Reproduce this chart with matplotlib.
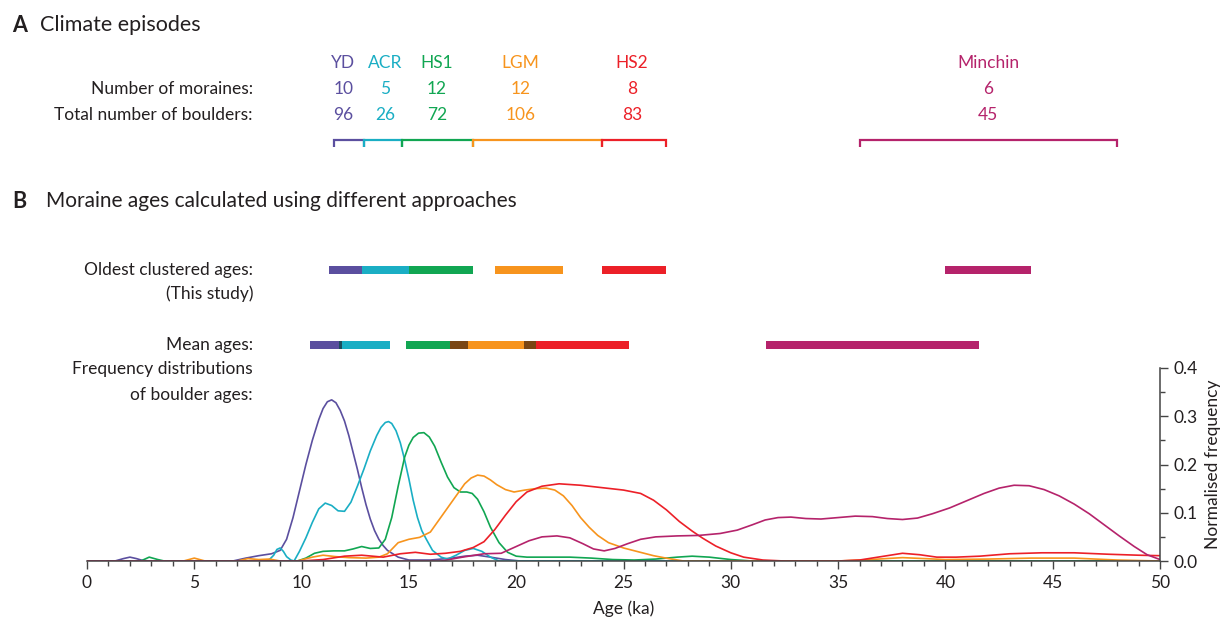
import matplotlib
matplotlib.use("Agg")
import matplotlib.pyplot as plt
from matplotlib.ticker import MultipleLocator, FormatStrFormatter

plt.rcParams["font.family"] = ["Lato", "DejaVu Sans"]

W, H = 1225, 628

# --- climate episodes (panel A) ---
episodes = ["YD", "ACR", "HS1", "LGM", "HS2", "Minchin"]
colors = ["#5b4f9f", "#1aaec4", "#11a652", "#f7941d", "#ec2028", "#b5236b"]
n_moraines = [10, 5, 12, 12, 8, 6]
n_boulders = [96, 26, 72, 106, 83, 45]
episode_start = [11.5, 12.9, 14.7, 18.0, 24.0, 36.0]
episode_end = [12.9, 14.7, 18.0, 24.0, 27.0, 48.0]
label_pos = [11.95, 13.9, 16.3, 20.2, 25.4, 42.0]

# --- moraine ages (panel B) ---
oldest_start = [11.3, 12.8, 15.0, 19.0, 24.0, 40.0]
oldest_end = [12.8, 15.0, 18.0, 22.2, 27.0, 44.0]
mean_start = [10.4, 11.75, 14.85, 16.9, 20.35, 31.65]
mean_end = [11.9, 14.1, 17.75, 20.9, 25.25, 41.55]
overlap_colors = ["#1d4d5c", None, "#7a4614", "#7a4614", None]

# --- frequency distributions of boulder ages ---
yd_x = [0, 1.3, 1.7, 2.0, 2.3, 2.6, 3.0, 6.8, 7.4, 8.0, 8.6, 9.0, 9.3, 9.6, 9.9, 10.2,
        10.5, 10.8, 11.0, 11.2, 11.4, 11.6, 11.8, 12.0, 12.2, 12.4, 12.6, 12.8, 13.0,
        13.2, 13.4, 13.6, 13.8, 14.0, 14.5, 15.0, 16.0, 17.0, 17.6, 18.2, 18.8, 19.5,
        20.2, 50]
yd_y = [0, 0, 0.005, 0.008, 0.005, 0.001, 0, 0, 0.006, 0.011, 0.015, 0.022, 0.045, 0.09,
        0.145, 0.2, 0.25, 0.293, 0.316, 0.33, 0.334, 0.328, 0.312, 0.29, 0.26, 0.225,
        0.19, 0.152, 0.117, 0.087, 0.063, 0.045, 0.032, 0.022, 0.008, 0.002, 0.002,
        0.006, 0.010, 0.012, 0.008, 0.003, 0, 0]

acr_x = [0, 8.3, 8.5, 8.7, 8.85, 9.0, 9.15, 9.3, 9.5, 9.65, 9.9, 10.2, 10.5, 10.8, 11.1,
         11.4, 11.7, 12.0, 12.3, 12.6, 12.9, 13.2, 13.5, 13.7, 13.9, 14.05, 14.2, 14.4,
         14.6, 14.8, 15.0, 15.2, 15.4, 15.6, 15.8, 16.1, 16.5, 16.8, 17.2, 17.6, 18.0,
         18.4, 18.8, 19.2, 50]
acr_y = [0, 0, 0.003, 0.012, 0.024, 0.027, 0.02, 0.009, 0.002, 0.0, 0.02, 0.048, 0.08,
         0.108, 0.12, 0.115, 0.104, 0.103, 0.122, 0.155, 0.19, 0.228, 0.26, 0.277, 0.287,
         0.289, 0.285, 0.27, 0.245, 0.21, 0.17, 0.126, 0.09, 0.063, 0.046, 0.022, 0.008,
         0.004, 0.012, 0.022, 0.026, 0.02, 0.008, 0.0, 0]

hs1_x = [0, 2.5, 2.9, 3.3, 3.6, 9.8, 10.2, 10.6, 11.0, 11.5, 12.0, 12.4, 12.8, 13.2, 13.6,
         13.9, 14.2, 14.5, 14.8, 15.0, 15.2, 15.45, 15.7, 15.95, 16.2, 16.5, 16.8, 17.1,
         17.4, 17.7, 17.95, 18.2, 18.5, 18.8, 19.2, 19.6, 20.0, 20.5, 21.5, 22.5, 23.5,
         24.5, 25.5, 26.5, 27.5, 28.2, 29.0, 30.0, 31.0, 50]
hs1_y = [0, 0, 0.008, 0.003, 0, 0, 0.006, 0.016, 0.02, 0.021, 0.021, 0.025, 0.03, 0.026,
         0.027, 0.045, 0.09, 0.155, 0.215, 0.24, 0.256, 0.265, 0.266, 0.257, 0.238, 0.205,
         0.174, 0.152, 0.143, 0.143, 0.14, 0.128, 0.102, 0.07, 0.038, 0.018, 0.01, 0.008,
         0.008, 0.008, 0.006, 0.003, 0.002, 0.004, 0.008, 0.01, 0.008, 0.003, 0.0, 0]

lgm_x = [0, 4.5, 5.0, 5.5, 7.0, 7.5, 8.0, 8.5, 9.0, 9.8, 10.5, 11.0, 11.6, 12.2, 13.0,
         13.6, 14.0, 14.5, 15.0, 15.5, 16.0, 16.4, 16.8, 17.2, 17.6, 17.9, 18.2, 18.5,
         18.8, 19.1, 19.5, 19.9, 20.4, 20.9, 21.4, 21.8, 22.2, 22.6, 23.0, 23.4, 23.8,
         24.3, 25.0, 25.7, 26.4, 27.1, 27.8, 35.0, 36.5, 38.0, 40.0, 42.0, 44.0, 46.0,
         48.0, 50]
lgm_y = [0, 0, 0.006, 0, 0, 0.005, 0.003, 0.004, 0, 0, 0.008, 0.012, 0.009, 0.007, 0.006,
         0.008, 0.015, 0.038, 0.045, 0.049, 0.06, 0.085, 0.11, 0.135, 0.16, 0.172, 0.178,
         0.176, 0.168, 0.158, 0.148, 0.143, 0.147, 0.15, 0.151, 0.147, 0.135, 0.115, 0.09,
         0.07, 0.053, 0.038, 0.027, 0.019, 0.011, 0.005, 0.0, 0.0, 0.003, 0.007, 0.003,
         0.004, 0.006, 0.006, 0.002, 0]

hs2_x = [0, 10.0, 11.0, 12.0, 12.8, 13.8, 14.6, 15.3, 16.0, 16.7, 17.4, 18.0, 18.5, 19.0,
         19.5, 20.0, 20.5, 21.2, 22.0, 23.0, 24.0, 25.0, 25.8, 26.4, 27.0, 27.6, 28.2,
         28.7, 29.3, 30.0, 30.6, 31.5, 32.5, 35.0, 36.0, 37.0, 38.0, 38.8, 39.6, 40.5,
         41.6, 43.0, 44.5, 46.0, 47.6, 49.0, 50]
hs2_y = [0, 0, 0.003, 0.01, 0.012, 0.008, 0.015, 0.018, 0.014, 0.016, 0.02, 0.028, 0.04,
         0.065, 0.095, 0.123, 0.143, 0.155, 0.16, 0.157, 0.152, 0.147, 0.14, 0.126, 0.106,
         0.082, 0.062, 0.047, 0.031, 0.017, 0.008, 0.002, 0, 0, 0.002, 0.009, 0.016, 0.013,
         0.008, 0.008, 0.01, 0.015, 0.017, 0.017, 0.014, 0.012, 0.011]

min_x = [0, 16.5, 17.5, 18.5, 19.3, 20.0, 20.6, 21.2, 21.9, 22.5, 23.1, 23.6, 24.1, 24.6,
         25.2, 25.8, 26.5, 27.5, 28.5, 29.5, 30.3, 31.0, 31.6, 32.2, 32.8, 33.5, 34.2,
         35.0, 35.8, 36.6, 37.3, 38.0, 38.7, 39.4, 40.2, 41.0, 41.8, 42.5, 43.2, 43.9,
         44.6, 45.3, 46.0, 46.7, 47.4, 48.1, 48.8, 49.4, 50]
min_y = [0, 0, 0.008, 0.015, 0.016, 0.03, 0.042, 0.05, 0.052, 0.048, 0.036, 0.025, 0.021,
         0.026, 0.036, 0.045, 0.05, 0.052, 0.053, 0.057, 0.064, 0.075, 0.085, 0.09, 0.091,
         0.088, 0.087, 0.09, 0.093, 0.092, 0.088, 0.086, 0.089, 0.098, 0.11, 0.125, 0.14,
         0.151, 0.157, 0.156, 0.148, 0.135, 0.118, 0.098, 0.075, 0.052, 0.03, 0.013, 0.003]

curves = [(yd_x, yd_y), (acr_x, acr_y), (hs1_x, hs1_y), (lgm_x, lgm_y),
          (hs2_x, hs2_y), (min_x, min_y)]

DARK = "#231f20"
FS = 12.5
fig = plt.figure(figsize=(W / 100, H / 100), dpi=100)


def ftext(x, y, s, **kw):
    # text placed in figure pixels, measured from the top left
    kw.setdefault("va", "center")
    kw.setdefault("color", DARK)
    fig.text(x / W, 1 - y / H, s, **kw)


# overlay axes: x in ka, y in figure pixels from the top
axt = fig.add_axes([87 / W, 0, 1073 / W, 1])
axt.set_xlim(0, 50)
axt.set_ylim(H, 0)
axt.axis("off")

ftext(12, 25, "A", fontsize=15.5, fontweight="bold")
ftext(40, 25, "Climate episodes", fontsize=15.5)
ftext(253, 89, "Number of moraines:", fontsize=FS, ha="right")
ftext(253, 115, "Total number of boulders:", fontsize=FS, ha="right")

for i, ep in enumerate(episodes):
    c = colors[i]
    axt.text(label_pos[i], 63, ep, ha="center", va="center", color=c, fontsize=FS)
    axt.text(label_pos[i], 89, str(n_moraines[i]), ha="center", va="center", color=c, fontsize=FS)
    axt.text(label_pos[i], 115, str(n_boulders[i]), ha="center", va="center", color=c, fontsize=FS)
    s, e = episode_start[i], episode_end[i]
    axt.plot([s, s, e, e], [147, 139.5, 139.5, 147], color=c, lw=1.6,
             solid_joinstyle="miter", solid_capstyle="butt", clip_on=False)

ftext(12, 201, "B", fontsize=15.5, fontweight="bold")
ftext(46, 201, "Moraine ages calculated using different approaches", fontsize=15)
ftext(253, 270, "Oldest clustered ages:", fontsize=FS, ha="right")
ftext(253, 294, "(This study)", fontsize=FS, ha="right")
ftext(253, 345, "Mean ages:", fontsize=FS, ha="right")
ftext(253, 369, "Frequency distributions", fontsize=FS, ha="right")
ftext(253, 395, "of boulder ages:", fontsize=FS, ha="right")

for i in range(len(episodes)):
    axt.barh(270, oldest_end[i] - oldest_start[i], left=oldest_start[i], height=8,
             color=colors[i], linewidth=0)
    axt.barh(345, mean_end[i] - mean_start[i], left=mean_start[i], height=8,
             color=colors[i], linewidth=0)
for i, oc in enumerate(overlap_colors):
    if oc is None:
        continue
    lo, hi = mean_start[i + 1], mean_end[i]
    axt.barh(345, hi - lo, left=lo, height=8, color=oc, linewidth=0)

# frequency plot
ax = fig.add_axes([87 / W, (H - 561) / H, 1073 / W, 193 / H])
for (x, y), c in zip(curves, colors):
    ax.plot(x, y, color=c, lw=1.2, solid_joinstyle="round")

ax.set_xlim(0, 50)
ax.set_ylim(0, 0.4)
ax.patch.set_alpha(0)
ax.spines["left"].set_visible(False)
ax.spines["top"].set_visible(False)
for sp in ("bottom", "right"):
    ax.spines[sp].set_color("#444444")
    ax.spines[sp].set_linewidth(1.1)
ax.yaxis.tick_right()
ax.yaxis.set_label_position("right")
ax.xaxis.set_major_locator(MultipleLocator(5))
ax.xaxis.set_minor_locator(MultipleLocator(1))
ax.yaxis.set_major_locator(MultipleLocator(0.1))
ax.yaxis.set_minor_locator(MultipleLocator(0.05))
ax.yaxis.set_major_formatter(FormatStrFormatter("%.1f"))
ax.tick_params(which="both", direction="out", color="#444444", width=1.0,
               labelsize=FS, labelcolor=DARK, pad=4)
ax.tick_params(which="major", length=6)
ax.tick_params(which="minor", length=3.5)
ax.set_xlabel("Age (ka)", fontsize=FS, color=DARK, labelpad=7)
ax.set_ylabel("Normalised frequency", fontsize=FS, color=DARK, labelpad=5)

fig.savefig("out.png", dpi=100)
